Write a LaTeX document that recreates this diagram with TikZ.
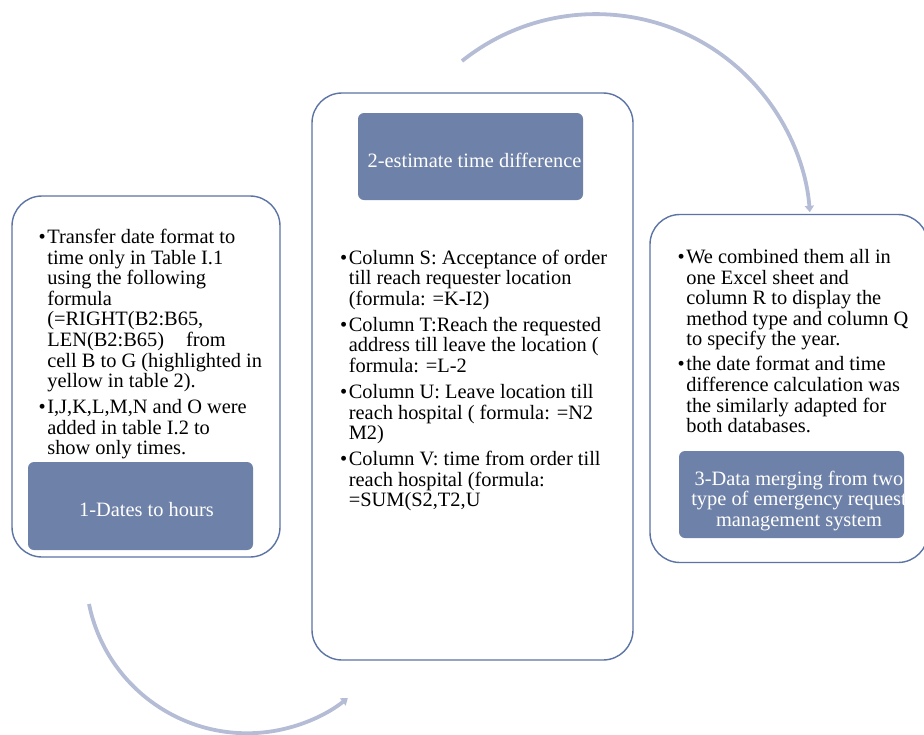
\documentclass[tikz,border=0pt]{standalone}
\usepackage{fontspec}
\setmainfont{Liberation Serif}
\usetikzlibrary{arrows.meta}
\definecolor{frameblue}{RGB}{92,115,165}
\definecolor{stepfill}{RGB}{110,129,168}
\definecolor{arcgrey}{RGB}{181,189,214}
\newcommand{\bodyfont}{\fontsize{20.4}{20.6}\selectfont}
\newcommand{\bulletlist}[1]{\begin{tabular}[t]{@{}l@{\hspace{1.5pt}}l@{}}#1\end{tabular}}
\begin{document}
\begin{tikzpicture}
        [x=1pt, y=-1pt,
         panel/.style={draw=frameblue, line width=1.4pt, fill=white, rounded corners=30pt, inner sep=0pt},
         stepbox/.style={fill=stepfill, rounded corners=6pt, inner sep=0pt},
         steplabel/.style={text=white, font=\bodyfont, anchor=base, inner sep=0pt},
         notes/.style={font=\bodyfont, anchor=base west, inner sep=0pt},
         flow/.style={draw=arcgrey, line width=3.8pt, -{Triangle[length=6.5pt,width=9pt]}}]
        \useasboundingbox (0,0) rectangle (924,734);
        \clip (0,0) rectangle (924,734);
        \coordinate (topstart) at (462,61);
        \coordinate (bottomstart) at (89,604);
        \draw[flow] (topstart) arc[start angle=128.6, end angle=4.4, radius=214.6pt];
        \draw[flow] (bottomstart) arc[start angle=-168.5, end angle=-51.4, radius=161.4pt];
        \node[panel, minimum width=268pt, minimum height=361pt] (P1) at (146,376.5) {};
        \node[panel, minimum width=321pt, minimum height=567pt] (P2) at (472.5,376.5) {};
        \node[panel, minimum width=278pt, minimum height=348pt] (P3) at (789,388.5) {};
        \node[stepbox, minimum width=225pt, minimum height=88pt] (S1) at (140.5,506) {};
        \node[stepbox, minimum width=225pt, minimum height=87pt] (S2) at (470.5,156.5) {};
        \node[stepbox, minimum width=225pt, minimum height=87pt] (S3) at (791.5,494.5) {};
        \node[steplabel] (L1) at (146.5,516) {1-Dates to hours};
        \node[steplabel] (L2) at (474.5,167) {2-estimate time difference};
        \node[steplabel] (L3) at (799,485)
          {\begin{tabular}[t]{@{}c@{}}3-Data merging from two\\ type of emergency request\\ management system\end{tabular}};
        \node[notes] (N1) at (38.5,243.5) {\bulletlist{
          \textbullet & Transfer date format to\\
          & time only in Table I.1\\
          & using the following\\
          & formula\\
          & (=RIGHT(B2:B65,\\
          & LEN(B2:B65)\hspace{22pt}from\\
          & cell B to G (highlighted in\\
          & yellow in table 2).\\[5.4pt]
          \textbullet & I,J,K,L,M,N and O were\\
          & added in table I.2 to\\
          & show only times.}};
        \node[notes] (N2) at (340,264) {\bulletlist{
          \textbullet & Column S: Acceptance of order\\
          & till reach requester location\\
          & (formula: =K-I2)\\[5.4pt]
          \textbullet & Column T:Reach the requested\\
          & address till leave the location (\\
          & formula: =L-2\\[5.4pt]
          \textbullet & Column U: Leave location till\\
          & reach hospital ( formula: =N2\\
          & M2)\\[5.4pt]
          \textbullet & Column V: time from order till\\
          & reach hospital (formula:\\
          & =SUM(S2,T2,U}};
        \node[notes] (N3) at (677.5,263.5) {\bulletlist{
          \textbullet & We combined them all in\\
          & one Excel sheet and\\
          & column R to display the\\
          & method type and column Q\\
          & to specify the year.\\[4.4pt]
          \textbullet & the date format and time\\
          & difference calculation was\\
          & the similarly adapted for\\
          & both databases.}};
    \end{tikzpicture}
\end{document}
